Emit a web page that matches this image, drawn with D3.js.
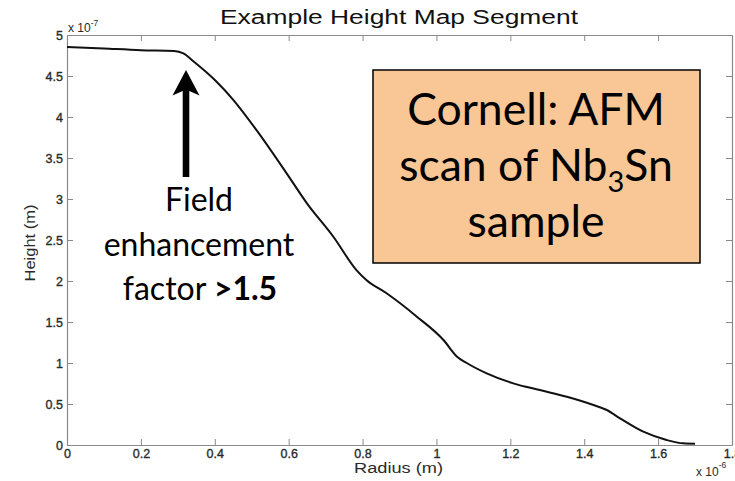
<!DOCTYPE html>
<html>
<head>
<meta charset="utf-8">
<script src="https://cdn.jsdelivr.net/npm/d3@7"></script>
<style>
  html, body { margin: 0; padding: 0; background: #fff; }
  svg { display: block; }
</style>
</head>
<body>
<svg id="chart" width="735" height="481"></svg>
<script>
// Radial height profile: radius in units of 1e-6 m, height in units of 1e-7 m
const radius = [0, 0.1, 0.2, 0.29, 0.315, 0.342, 0.405, 0.45, 0.513, 0.595, 0.649, 0.721, 0.784, 0.811, 0.865, 0.947, 1.019, 1.055, 1.082, 1.136, 1.208, 1.28, 1.353, 1.425, 1.461, 1.497, 1.56, 1.623, 1.668, 1.70];
const height = [4.855, 4.835, 4.815, 4.805, 4.775, 4.68, 4.43, 4.21, 3.84, 3.31, 2.95, 2.54, 2.13, 2.01, 1.85, 1.565, 1.28, 1.08, 1.0, 0.874, 0.752, 0.67, 0.589, 0.488, 0.427, 0.325, 0.162, 0.061, 0.02, 0.015];

const xTicks = [0, 0.2, 0.4, 0.6, 0.8, 1, 1.2, 1.4, 1.6, 1.8];
const yTicks = [0, 0.5, 1, 1.5, 2, 2.5, 3, 3.5, 4, 4.5, 5];

const titleText = "Example Height Map Segment";
const xLabel = "Radius (m)";
const yLabel = "Height (m)";
const noteLines = ["Field", "enhancement"];
const boxLines = ["Cornell: AFM", "sample"];

(function draw() {
  const svg = d3.select("#chart");
  const plotL = 67, plotR = 732, plotT = 35, plotB = 445;
  const axisColor = "#8a8a8a";
  const labelColor = "#2a2a2a";
  const sans = "'Liberation Sans', Arial, sans-serif";
  const callout = "Lato, 'Open Sans', sans-serif";

  const x = d3.scaleLinear().domain([0, 1.8]).range([plotL, plotR]);
  const y = d3.scaleLinear().domain([0, 5]).range([plotB, plotT]);
  const fmt = d3.format("~g");

  // Axes: ticks point inward, like a boxed plot
  function styleAxis(g) {
    g.selectAll(".domain").attr("stroke", axisColor).attr("stroke-width", 1.2);
    g.selectAll(".tick line").attr("stroke", axisColor).attr("stroke-width", 1);
    g.selectAll(".tick text").attr("fill", labelColor).attr("stroke", labelColor)
      .attr("stroke-width", 0.35).attr("font-family", sans).attr("font-size", 12.5);
  }

  svg.append("g").attr("transform", `translate(0,${plotB})`)
    .call(d3.axisBottom(x).tickValues(xTicks).tickFormat(fmt).tickSizeInner(-6).tickSizeOuter(0).tickPadding(4))
    .call(styleAxis);
  svg.append("g").attr("transform", `translate(${plotL},0)`)
    .call(d3.axisLeft(y).tickValues(yTicks).tickFormat(fmt).tickSizeInner(-6).tickSizeOuter(0).tickPadding(4))
    .call(styleAxis);
  svg.append("g").attr("transform", `translate(0,${plotT})`)
    .call(d3.axisTop(x).tickValues(xTicks).tickFormat("").tickSizeInner(-6).tickSizeOuter(0))
    .call(styleAxis);
  svg.append("g").attr("transform", `translate(${plotR},0)`)
    .call(d3.axisRight(y).tickValues(yTicks).tickFormat("").tickSizeInner(-6).tickSizeOuter(0))
    .call(styleAxis);

  // Exponent multipliers
  const e7 = svg.append("text").attr("x", plotL + 1).attr("y", 32)
    .attr("font-family", sans).attr("font-size", 12).attr("fill", labelColor);
  e7.append("tspan").text("x 10");
  e7.append("tspan").attr("dy", -6).attr("font-size", 8.5).text("-7");

  const e6 = svg.append("text").attr("x", 696).attr("y", 476)
    .attr("font-family", sans).attr("font-size", 12).attr("fill", labelColor);
  e6.append("tspan").text("x 10");
  e6.append("tspan").attr("dy", -8).attr("font-size", 8.5).text("-6");

  // Height profile
  const pts = radius.map((r, i) => [r, height[i]]);
  svg.append("path")
    .datum(pts)
    .attr("fill", "none")
    .attr("stroke", "#111")
    .attr("stroke-width", 2)
    .attr("stroke-linejoin", "round")
    .attr("d", d3.line().x(d => x(d[0])).y(d => y(d[1])).curve(d3.curveMonotoneX));

  // Title and axis labels
  svg.append("text").attr("x", 399).attr("y", 24).attr("text-anchor", "middle")
    .attr("font-family", sans).attr("font-size", 20).attr("fill", "#111")
    .attr("textLength", 358).attr("lengthAdjust", "spacingAndGlyphs")
    .text(titleText);
  svg.append("text").attr("x", 398.5).attr("y", 473).attr("text-anchor", "middle")
    .attr("font-family", sans).attr("font-size", 14).attr("fill", labelColor)
    .attr("textLength", 89).attr("lengthAdjust", "spacingAndGlyphs")
    .text(xLabel);
  svg.append("text").attr("transform", "translate(35,243) rotate(-90)").attr("text-anchor", "middle")
    .attr("font-family", sans).attr("font-size", 14).attr("fill", labelColor)
    .attr("textLength", 77).attr("lengthAdjust", "spacingAndGlyphs")
    .text(yLabel);

  // Arrow pointing at the edge of the plateau
  svg.append("path")
    .attr("d", "M186,70 L199.5,95.5 L189.3,91 L189.3,177 L182.7,177 L182.7,91 L172.5,95.5 Z")
    .attr("fill", "#000");

  // Arrow caption
  const noteY = [211, 256];
  noteLines.forEach((t, i) => {
    svg.append("text").attr("x", 199).attr("y", noteY[i]).attr("text-anchor", "middle")
      .attr("font-family", callout).attr("font-size", 32).attr("fill", "#000").text(t);
  });
  const fac = svg.append("text").attr("x", 200).attr("y", 300).attr("text-anchor", "middle")
    .attr("font-family", callout).attr("font-size", 32).attr("fill", "#000");
  fac.append("tspan").text("factor ");
  fac.append("tspan").attr("font-weight", "bold").text(">1.5");

  // Source box
  svg.append("rect").attr("x", 373).attr("y", 70).attr("width", 327).attr("height", 193)
    .attr("fill", "#f8c795").attr("stroke", "#000").attr("stroke-width", 1.5);
  const boxText = (yy) => svg.append("text").attr("x", 536).attr("y", yy).attr("text-anchor", "middle")
    .attr("font-family", callout).attr("font-size", 44.5).attr("fill", "#000");
  boxText(125).text(boxLines[0]);
  const mid = boxText(181);
  mid.append("tspan").text("scan of Nb");
  mid.append("tspan").attr("font-size", 29).attr("dy", 11).text("3");
  mid.append("tspan").attr("dy", -11).text("Sn");
  boxText(237).text(boxLines[1]);
})();
</script>
</body>
</html>
